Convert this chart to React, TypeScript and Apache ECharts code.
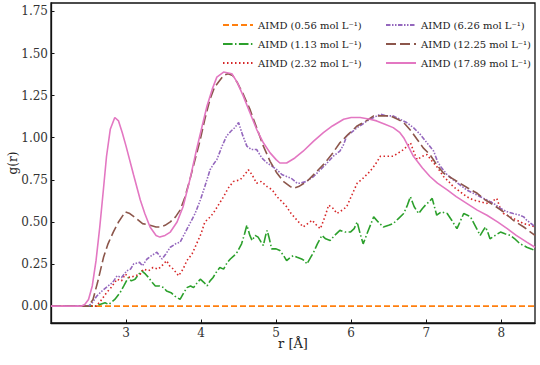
import React, { useEffect, useRef } from "react";
import * as echarts from "echarts";

const xTicks = [3, 4, 5, 6, 7, 8];
const yTicks = [0, 0.25, 0.5, 0.75, 1.0, 1.25, 1.5, 1.75];

const names = [
  "AIMD (0.56 mol L⁻¹)",
  "AIMD (1.13 mol L⁻¹)",
  "AIMD (2.32 mol L⁻¹)",
  "AIMD (6.26 mol L⁻¹)",
  "AIMD (12.25 mol L⁻¹)",
  "AIMD (17.89 mol L⁻¹)",
];

const c056 = [[2.0, 0], [8.45, 0]];

const c113 = [[2.0, 0], [2.6, 0], [2.65, 0.01], [2.72, 0.02], [2.77, 0.01], [2.85, 0.04], [2.92, 0.08], [2.97, 0.12], [3.03, 0.17], [3.07, 0.15], [3.12, 0.16], [3.17, 0.19], [3.21, 0.21], [3.26, 0.19], [3.3, 0.17], [3.35, 0.14], [3.39, 0.12], [3.45, 0.12], [3.5, 0.11], [3.54, 0.09], [3.6, 0.08], [3.65, 0.06], [3.72, 0.04], [3.77, 0.08], [3.81, 0.11], [3.86, 0.12], [3.9, 0.11], [3.95, 0.14], [3.99, 0.16], [4.04, 0.14], [4.08, 0.12], [4.12, 0.15], [4.16, 0.17], [4.2, 0.2], [4.25, 0.23], [4.3, 0.22], [4.35, 0.26], [4.39, 0.28], [4.44, 0.3], [4.48, 0.32], [4.54, 0.37], [4.58, 0.43], [4.61, 0.48], [4.65, 0.42], [4.68, 0.39], [4.72, 0.42], [4.76, 0.41], [4.8, 0.38], [4.83, 0.36], [4.86, 0.42], [4.88, 0.45], [4.91, 0.4], [4.94, 0.34], [5.0, 0.34], [5.05, 0.33], [5.1, 0.3], [5.14, 0.27], [5.19, 0.29], [5.23, 0.3], [5.28, 0.29], [5.34, 0.28], [5.38, 0.27], [5.41, 0.25], [5.46, 0.29], [5.5, 0.32], [5.55, 0.37], [5.61, 0.42], [5.66, 0.4], [5.72, 0.39], [5.78, 0.42], [5.85, 0.45], [5.92, 0.44], [5.99, 0.44], [6.04, 0.46], [6.08, 0.5], [6.12, 0.43], [6.16, 0.37], [6.22, 0.44], [6.3, 0.53], [6.36, 0.5], [6.43, 0.47], [6.5, 0.48], [6.56, 0.49], [6.63, 0.52], [6.7, 0.55], [6.75, 0.6], [6.79, 0.65], [6.84, 0.59], [6.9, 0.55], [6.95, 0.58], [6.99, 0.6], [7.04, 0.62], [7.08, 0.64], [7.11, 0.59], [7.14, 0.54], [7.2, 0.56], [7.28, 0.55], [7.34, 0.51], [7.41, 0.46], [7.46, 0.51], [7.5, 0.55], [7.55, 0.54], [7.59, 0.53], [7.65, 0.48], [7.72, 0.42], [7.76, 0.45], [7.79, 0.47], [7.82, 0.44], [7.85, 0.4], [7.92, 0.42], [7.99, 0.44], [8.05, 0.43], [8.12, 0.42], [8.18, 0.4], [8.25, 0.37], [8.3, 0.36], [8.34, 0.35], [8.4, 0.34], [8.45, 0.33]];

const c232 = [[2.0, 0], [2.6, 0], [2.66, 0.03], [2.74, 0.08], [2.8, 0.11], [2.88, 0.16], [2.94, 0.15], [2.99, 0.19], [3.05, 0.17], [3.12, 0.18], [3.19, 0.19], [3.23, 0.22], [3.3, 0.21], [3.36, 0.23], [3.43, 0.22], [3.5, 0.25], [3.54, 0.27], [3.58, 0.24], [3.63, 0.22], [3.7, 0.18], [3.76, 0.22], [3.81, 0.27], [3.88, 0.31], [3.94, 0.37], [4.0, 0.43], [4.05, 0.5], [4.1, 0.52], [4.16, 0.55], [4.23, 0.6], [4.3, 0.65], [4.36, 0.7], [4.43, 0.74], [4.52, 0.75], [4.58, 0.78], [4.63, 0.81], [4.68, 0.78], [4.74, 0.73], [4.8, 0.74], [4.88, 0.71], [4.95, 0.69], [5.01, 0.65], [5.08, 0.62], [5.14, 0.59], [5.2, 0.55], [5.28, 0.51], [5.36, 0.47], [5.42, 0.49], [5.48, 0.51], [5.54, 0.48], [5.59, 0.46], [5.65, 0.53], [5.7, 0.6], [5.76, 0.58], [5.81, 0.55], [5.88, 0.57], [5.94, 0.59], [6.01, 0.66], [6.08, 0.73], [6.16, 0.76], [6.25, 0.8], [6.32, 0.84], [6.39, 0.89], [6.47, 0.89], [6.56, 0.89], [6.63, 0.91], [6.7, 0.93], [6.79, 0.97], [6.84, 0.91], [6.88, 0.87], [6.95, 0.89], [7.01, 0.9], [7.08, 0.86], [7.14, 0.83], [7.23, 0.77], [7.3, 0.74], [7.36, 0.71], [7.45, 0.68], [7.54, 0.65], [7.63, 0.63], [7.72, 0.62], [7.8, 0.61], [7.87, 0.62], [7.94, 0.64], [7.98, 0.59], [8.03, 0.55], [8.12, 0.53], [8.21, 0.51], [8.3, 0.49], [8.39, 0.48], [8.45, 0.47]];

const c626 = [[2.0, 0], [2.5, 0], [2.55, 0.02], [2.61, 0.06], [2.68, 0.09], [2.76, 0.12], [2.82, 0.14], [2.88, 0.18], [2.94, 0.17], [3.01, 0.21], [3.06, 0.22], [3.1, 0.25], [3.18, 0.26], [3.22, 0.24], [3.28, 0.28], [3.34, 0.3], [3.41, 0.32], [3.48, 0.28], [3.53, 0.31], [3.59, 0.35], [3.66, 0.37], [3.72, 0.38], [3.78, 0.43], [3.85, 0.49], [3.92, 0.55], [3.99, 0.63], [4.05, 0.71], [4.12, 0.81], [4.16, 0.84], [4.21, 0.87], [4.28, 0.95], [4.34, 1.01], [4.4, 1.04], [4.45, 1.06], [4.5, 1.09], [4.55, 1.02], [4.61, 0.95], [4.67, 0.93], [4.74, 0.93], [4.81, 0.88], [4.88, 0.85], [4.95, 0.83], [5.01, 0.81], [5.08, 0.78], [5.14, 0.77], [5.2, 0.76], [5.28, 0.73], [5.32, 0.73], [5.4, 0.74], [5.5, 0.77], [5.59, 0.81], [5.68, 0.85], [5.76, 0.89], [5.85, 0.92], [5.9, 0.96], [5.94, 1.01], [6.0, 1.03], [6.08, 1.06], [6.15, 1.08], [6.21, 1.1], [6.3, 1.12], [6.39, 1.14], [6.47, 1.13], [6.56, 1.13], [6.65, 1.11], [6.74, 1.09], [6.83, 1.06], [6.92, 1.02], [7.01, 0.97], [7.1, 0.92], [7.15, 0.86], [7.19, 0.83], [7.28, 0.78], [7.36, 0.75], [7.45, 0.72], [7.54, 0.69], [7.63, 0.67], [7.72, 0.65], [7.81, 0.63], [7.9, 0.61], [7.99, 0.58], [8.08, 0.56], [8.16, 0.55], [8.25, 0.54], [8.3, 0.53], [8.34, 0.51], [8.4, 0.49], [8.45, 0.47]];

const c1225 = [[2.0, 0], [2.5, 0], [2.56, 0.04], [2.62, 0.14], [2.7, 0.29], [2.76, 0.37], [2.83, 0.44], [2.9, 0.5], [2.99, 0.56], [3.05, 0.55], [3.14, 0.52], [3.22, 0.49], [3.32, 0.48], [3.4, 0.47], [3.45, 0.47], [3.52, 0.48], [3.59, 0.5], [3.66, 0.53], [3.72, 0.57], [3.78, 0.64], [3.85, 0.75], [3.92, 0.87], [3.99, 0.99], [4.05, 1.11], [4.12, 1.23], [4.18, 1.3], [4.23, 1.33], [4.3, 1.37], [4.36, 1.38], [4.42, 1.37], [4.48, 1.33], [4.56, 1.26], [4.65, 1.17], [4.74, 1.06], [4.83, 0.95], [4.92, 0.86], [5.01, 0.79], [5.1, 0.74], [5.19, 0.71], [5.23, 0.7], [5.3, 0.71], [5.41, 0.74], [5.52, 0.79], [5.63, 0.84], [5.74, 0.9], [5.85, 0.97], [5.96, 1.02], [6.08, 1.07], [6.2, 1.1], [6.3, 1.13], [6.4, 1.13], [6.52, 1.13], [6.62, 1.11], [6.7, 1.09], [6.8, 1.04], [6.88, 0.99], [6.96, 0.94], [7.05, 0.9], [7.14, 0.84], [7.23, 0.79], [7.34, 0.76], [7.45, 0.73], [7.56, 0.7], [7.68, 0.67], [7.79, 0.63], [7.9, 0.6], [8.03, 0.56], [8.16, 0.51], [8.3, 0.47], [8.45, 0.42]];

const c1789 = [[2.0, 0], [2.4, 0], [2.45, 0.01], [2.5, 0.04], [2.55, 0.12], [2.6, 0.27], [2.65, 0.47], [2.7, 0.7], [2.74, 0.89], [2.79, 1.05], [2.85, 1.12], [2.9, 1.1], [2.95, 1.03], [3.0, 0.95], [3.1, 0.78], [3.19, 0.63], [3.25, 0.55], [3.32, 0.47], [3.4, 0.42], [3.45, 0.41], [3.52, 0.42], [3.59, 0.44], [3.68, 0.5], [3.76, 0.59], [3.85, 0.75], [3.94, 0.93], [4.02, 1.08], [4.08, 1.19], [4.15, 1.29], [4.21, 1.36], [4.3, 1.39], [4.41, 1.38], [4.48, 1.33], [4.56, 1.25], [4.65, 1.15], [4.74, 1.05], [4.83, 0.97], [4.92, 0.91], [5.0, 0.87], [5.05, 0.85], [5.14, 0.85], [5.25, 0.88], [5.36, 0.92], [5.5, 0.98], [5.63, 1.03], [5.75, 1.07], [5.9, 1.11], [6.0, 1.12], [6.12, 1.12], [6.25, 1.11], [6.34, 1.1], [6.45, 1.08], [6.56, 1.06], [6.65, 1.03], [6.7, 1.0], [6.76, 0.95], [6.83, 0.89], [6.95, 0.82], [7.05, 0.77], [7.15, 0.73], [7.28, 0.69], [7.4, 0.65], [7.54, 0.61], [7.68, 0.57], [7.81, 0.54], [7.95, 0.5], [8.08, 0.46], [8.2, 0.42], [8.34, 0.38], [8.45, 0.35]];

const seriesData = [c056, c113, c232, c626, c1225, c1789];
const colors = ["#ff7f0e", "#2ca02c", "#d62728", "#9467bd", "#8c564b", "#e377c2"];
const dashes: any[] = [
  [6, 3],
  [9.6, 2.4, 1.5, 2.4],
  [1.5, 2.5],
  [4.5, 1.5, 1.5, 1.5, 1.5, 1.5],
  [10, 4],
  "solid",
];

const FONT = "DejaVu Serif";

export default function App() {
  const ref = useRef<HTMLDivElement>(null);
  useEffect(() => {
    if (!ref.current) return;
    const chart = echarts.init(ref.current, undefined, { renderer: "svg" });
    const legendBase = {
      orient: "vertical",
      top: 14,
      itemWidth: 30,
      itemHeight: 12,
      itemGap: 7,
      itemStyle: { opacity: 0 },
      textStyle: { fontFamily: FONT, fontSize: 10, color: "#222", lineHeight: 12 },
    };
    chart.setOption({
      animation: false,
      textStyle: { fontFamily: FONT },
      grid: {
        left: 51,
        right: 5,
        top: 3,
        bottom: 42,
        containLabel: false,
        outerBoundsMode: "none",
        show: true,
        borderColor: "#111",
        borderWidth: 1.3,
        backgroundColor: "transparent",
      },
      legend: [
        { ...legendBase, left: 217, data: names.slice(0, 3) },
        { ...legendBase, left: 380, data: names.slice(3, 6) },
      ],
      xAxis: {
        type: "value",
        min: 2.0,
        max: 8.45,
        name: "r [Å]",
        nameLocation: "middle",
        nameGap: 14,
        nameMoveOverlap: false,
        nameTextStyle: { fontFamily: FONT, fontSize: 13, color: "#222", verticalAlign: "top" },
        axisLine: { show: true, onZero: false, lineStyle: { color: "#111", width: 1.3 } },
        axisTick: { show: true, inside: true, length: 3.5, customValues: xTicks, lineStyle: { color: "#111" } },
        axisLabel: {
          customValues: xTicks,
          margin: 4,
          fontFamily: FONT,
          fontSize: 12,
          color: "#333",
        },
        splitLine: { show: false },
      },
      yAxis: {
        type: "value",
        min: -0.1,
        max: 1.8,
        name: "g(r)",
        nameLocation: "middle",
        nameGap: 32,
        nameMoveOverlap: false,
        nameTextStyle: { fontFamily: FONT, fontSize: 12, color: "#222" },
        axisLine: { show: true, onZero: false, lineStyle: { color: "#111", width: 1.3 } },
        axisTick: { show: true, inside: true, length: 3.5, customValues: yTicks, lineStyle: { color: "#111" } },
        axisLabel: {
          customValues: yTicks,
          margin: 3,
          fontFamily: FONT,
          fontSize: 12,
          color: "#333",
          formatter: (v: number) => v.toFixed(2),
        },
        splitLine: { show: false },
      },
      series: seriesData.map((d, i) => ({
        type: "line",
        name: names[i],
        data: d,
        symbol: "none",
        color: colors[i],
        lineStyle: { color: colors[i], width: 1.6, type: dashes[i] },
      })),
    });
    return () => chart.dispose();
  }, []);
  return <div ref={ref} style={{ width: 540, height: 365, position: "absolute", left: 0, top: 0 }} />;
}
